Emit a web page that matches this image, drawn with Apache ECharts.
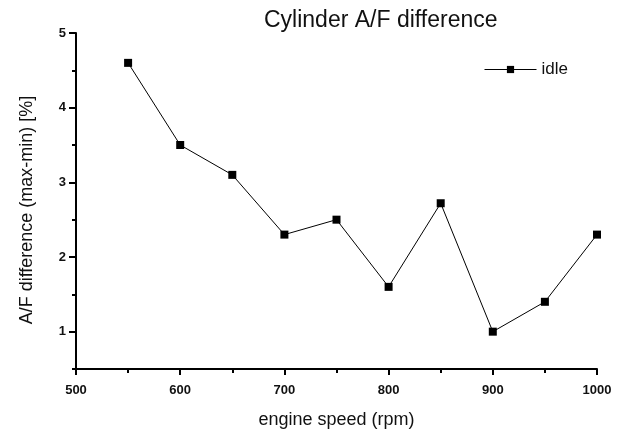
<!DOCTYPE html>
<html>
<head>
<meta charset="utf-8">
<script src="https://cdn.jsdelivr.net/npm/echarts@6/dist/echarts.min.js"></script>
<style>html,body{margin:0;padding:0;background:#fff}#c{width:621px;height:430px}</style>
</head>
<body>
<div id="c"></div>
<script>
var speeds = [550, 600, 650, 700, 750, 800, 850, 900, 950, 1000];
var idle = [4.6, 3.5, 3.1, 2.3, 2.5, 1.6, 2.72, 1.0, 1.4, 2.3];
var yMajor = [1, 2, 3, 4, 5];

var chart = echarts.init(document.getElementById('c'), null, {renderer: 'canvas'});
var font = 'Liberation Sans, Arial, sans-serif';
chart.setOption({
  animation: false,
  backgroundColor: '#fff',
  title: {
    text: 'Cylinder A/F difference',
    left: 259, top: 4,
    textStyle: {fontFamily: font, fontSize: 23, fontWeight: 'normal', color: '#111'}
  },
  legend: {
    left: 479, top: 56,
    itemWidth: 52, itemHeight: 9, itemGap: 4,
    lineStyle: {width: 1},
    textStyle: {fontFamily: font, fontSize: 17, color: '#111'},
    data: ['idle']
  },
  grid: {left: 76, right: 24, top: 33, bottom: 61, containLabel: false, outerBoundsMode: 'none'},
  xAxis: {
    type: 'value', min: 500, max: 1000, interval: 100,
    name: 'engine speed (rpm)', nameLocation: 'middle', nameGap: 42,
    nameTextStyle: {fontFamily: font, fontSize: 18, color: '#111'},
    axisLine: {lineStyle: {color: '#000', width: 2}},
    axisTick: {show: true, inside: false, length: 6, lineStyle: {color: '#000', width: 2}},
    minorTick: {show: true, splitNumber: 2, length: 4, lineStyle: {color: '#000', width: 2}},
    axisLabel: {fontFamily: font, fontSize: 13, fontWeight: 'bold', color: '#111', margin: 15,
      formatter: function (v) { return String(v); }},
    splitLine: {show: false}
  },
  yAxis: [{
    type: 'value', min: 0.5, max: 5, interval: 0.5, position: 'left',
    name: 'A/F difference (max-min) [%]', nameLocation: 'middle', nameGap: 40,
    nameTextStyle: {fontFamily: font, fontSize: 18, color: '#111', padding: [0, 18, 0, 0]},
    axisLine: {show: true, lineStyle: {color: '#000', width: 2}},
    axisTick: {show: true, inside: false, length: 4, lineStyle: {color: '#000', width: 2}},
    axisLabel: {fontFamily: font, fontSize: 13, fontWeight: 'bold', color: '#111', margin: 10,
      formatter: function (v) { return Math.abs(v - Math.round(v)) < 1e-6 ? String(Math.round(v)) : ''; }},
    splitLine: {show: false}
  }, {
    type: 'value', min: 0.5, max: 5, position: 'left', offset: 0,
    axisLine: {show: false},
    axisTick: {show: true, inside: false, length: 7, customValues: yMajor, lineStyle: {color: '#000', width: 2}},
    axisLabel: {show: false},
    splitLine: {show: false}
  }],
  series: [{
    name: 'idle', type: 'line',
    data: speeds.map(function (s, i) { return [s, idle[i]]; }),
    symbol: 'rect', symbolSize: 8,
    itemStyle: {color: '#000'},
    lineStyle: {color: '#000', width: 1}
  }]
});
</script>
</body>
</html>
